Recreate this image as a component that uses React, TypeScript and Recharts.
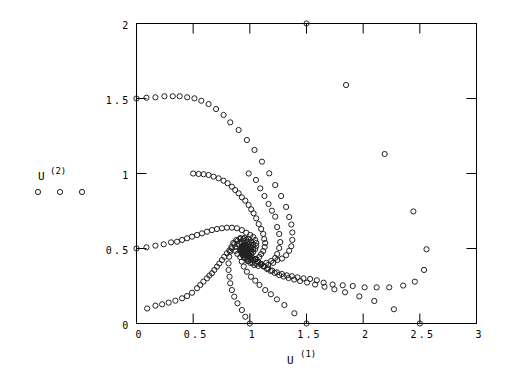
import React from 'react';
import { ScatterChart, Scatter, XAxis, YAxis, Legend, ReferenceLine } from 'recharts';

const xTicks = [0, 0.5, 1, 1.5, 2, 2.5, 3];
const yTicks = [0, 0.5, 1, 1.5, 2];
const keySamples = ['o', 'o', 'o'];

// trajectory starting at (0, 1.5)
const trajA: [number, number][] = [
  [0, 1.5], [0.088, 1.505], [0.167, 1.508], [0.246, 1.515], [0.32, 1.515], [0.381, 1.515], [0.447, 1.508],
  [0.511, 1.501], [0.572, 1.485], [0.636, 1.463], [0.702, 1.43], [0.768, 1.39], [0.827, 1.341], [0.901, 1.29],
  [0.974, 1.223], [1.041, 1.157], [1.107, 1.079], [1.171, 1.001], [1.224, 0.923], [1.276, 0.85], [1.32, 0.777],
  [1.347, 0.71], [1.366, 0.66], [1.375, 0.607], [1.375, 0.557], [1.366, 0.515], [1.347, 0.485], [1.32, 0.455],
  [1.283, 0.433], [1.243, 0.423], [1.206, 0.404], [1.162, 0.39], [1.118, 0.384], [1.074, 0.384], [1.039, 0.39],
  [1.004, 0.404], [0.978, 0.417], [0.951, 0.437], [0.934, 0.457], [0.925, 0.477], [0.925, 0.497], [0.934, 0.51],
  [0.951, 0.517], [0.969, 0.517], [0.978, 0.504], [0.969, 0.497],
];

// trajectory starting at (0.5, 1)
const trajB: [number, number][] = [
  [0.5, 1.0], [0.548, 0.997], [0.592, 0.995], [0.636, 0.99], [0.68, 0.979], [0.724, 0.968], [0.768, 0.952],
  [0.804, 0.935], [0.842, 0.912], [0.871, 0.89], [0.901, 0.868], [0.93, 0.841], [0.96, 0.819], [0.989, 0.79],
  [1.012, 0.761], [1.033, 0.735], [1.056, 0.701], [1.078, 0.663], [1.1, 0.63], [1.118, 0.597], [1.127, 0.563],
  [1.136, 0.537], [1.131, 0.51], [1.118, 0.483], [1.1, 0.463], [1.083, 0.444], [1.057, 0.43], [1.03, 0.424],
  [1.004, 0.424], [0.978, 0.43], [0.951, 0.444], [0.934, 0.464], [0.925, 0.484], [0.934, 0.504], [0.951, 0.517],
  [0.969, 0.51], [0.969, 0.497],
];

// trajectory starting at (1, 1)
const trajC: [number, number][] = [
  [0.99, 1.0], [1.054, 0.957], [1.092, 0.901], [1.129, 0.85], [1.165, 0.797], [1.195, 0.752], [1.224, 0.712],
  [1.241, 0.643], [1.259, 0.597], [1.268, 0.543], [1.259, 0.503], [1.241, 0.463], [1.224, 0.437], [1.189, 0.417],
  [1.145, 0.404], [1.101, 0.397], [1.057, 0.397], [1.022, 0.404], [0.986, 0.417], [0.96, 0.437], [0.942, 0.457],
  [0.934, 0.477], [0.934, 0.497], [0.942, 0.51], [0.96, 0.51], [0.969, 0.504],
];

// trajectory starting at (0, 0.5)
const trajD: [number, number][] = [
  [0, 0.5], [0.088, 0.508], [0.167, 0.519], [0.24, 0.528], [0.305, 0.541], [0.358, 0.545], [0.402, 0.557],
  [0.446, 0.568], [0.49, 0.579], [0.534, 0.59], [0.578, 0.601], [0.622, 0.612], [0.666, 0.623], [0.71, 0.63],
  [0.754, 0.635], [0.798, 0.639], [0.842, 0.639], [0.886, 0.635], [0.93, 0.623], [0.968, 0.605], [1.004, 0.59],
  [1.03, 0.577], [1.048, 0.557], [1.057, 0.537], [1.057, 0.517], [1.048, 0.497], [1.03, 0.477], [1.013, 0.464],
  [0.986, 0.457], [0.96, 0.457], [0.942, 0.464], [0.925, 0.477], [0.925, 0.497], [0.934, 0.51], [0.951, 0.517],
  [0.969, 0.51],
];

// trajectory starting at (0.1, 0.1)
const trajE: [number, number][] = [
  [0.094, 0.1], [0.167, 0.119], [0.226, 0.128], [0.284, 0.139], [0.343, 0.152], [0.402, 0.168], [0.446, 0.183],
  [0.49, 0.205], [0.534, 0.235], [0.563, 0.257], [0.59, 0.279], [0.622, 0.301], [0.643, 0.32], [0.666, 0.335],
  [0.687, 0.357], [0.71, 0.379], [0.731, 0.4], [0.754, 0.423], [0.775, 0.445], [0.798, 0.468], [0.819, 0.487],
  [0.842, 0.501], [0.863, 0.53], [0.89, 0.55], [0.916, 0.564], [0.942, 0.564], [0.969, 0.557], [0.995, 0.544],
  [1.013, 0.524], [1.013, 0.504], [1.004, 0.484], [0.986, 0.47], [0.96, 0.47], [0.942, 0.477], [0.934, 0.49],
  [0.942, 0.504], [0.96, 0.51],
];

// trajectory starting at (1, 0)
const trajF: [number, number][] = [
  [1.0, 0], [0.96, 0.045], [0.93, 0.09], [0.891, 0.135], [0.862, 0.179], [0.842, 0.223], [0.827, 0.268],
  [0.821, 0.312], [0.812, 0.357], [0.812, 0.401], [0.818, 0.445], [0.827, 0.48], [0.837, 0.51], [0.854, 0.537],
  [0.881, 0.557], [0.916, 0.57], [0.951, 0.57], [0.986, 0.564], [1.013, 0.544], [1.03, 0.524], [1.03, 0.497],
  [1.013, 0.477], [0.986, 0.464], [0.96, 0.464], [0.934, 0.477], [0.934, 0.497], [0.951, 0.51],
];

// trajectory starting at (1.5, 0)
const trajG: [number, number][] = [
  [1.5, 0], [1.393, 0.068], [1.305, 0.123], [1.239, 0.161], [1.186, 0.195], [1.136, 0.223], [1.085, 0.257],
  [1.048, 0.285], [1.01, 0.312], [0.974, 0.345], [0.946, 0.38], [0.929, 0.413], [0.915, 0.443], [0.89, 0.464],
  [0.872, 0.484], [0.872, 0.51], [0.89, 0.53], [0.916, 0.544], [0.942, 0.55], [0.978, 0.544], [0.995, 0.53],
  [1.004, 0.51], [0.995, 0.49], [0.978, 0.477], [0.96, 0.477], [0.942, 0.49], [0.951, 0.504],
];

// trajectory starting at (1.5, 2)
const trajH: [number, number][] = [
  [1.5, 2.0], [1.849, 1.59], [2.19, 1.13], [2.443, 0.747], [2.559, 0.495], [2.537, 0.357], [2.456, 0.279],
  [2.353, 0.253], [2.23, 0.241], [2.119, 0.241], [2.013, 0.241], [1.908, 0.25], [1.82, 0.255], [1.73, 0.26],
  [1.651, 0.272], [1.591, 0.288], [1.532, 0.297], [1.473, 0.301], [1.42, 0.308], [1.371, 0.315], [1.327, 0.321],
  [1.283, 0.33], [1.239, 0.341], [1.197, 0.353], [1.162, 0.367], [1.127, 0.38], [1.096, 0.397], [1.07, 0.413],
  [1.048, 0.43], [1.017, 0.44], [0.995, 0.447], [0.969, 0.454], [0.942, 0.464], [0.925, 0.484], [0.925, 0.504],
  [0.934, 0.517], [0.951, 0.524], [0.969, 0.517], [0.978, 0.504], [0.969, 0.49],
];

// trajectory starting at (2.5, 0)
const trajI: [number, number][] = [
  [2.5, 0], [2.271, 0.095], [2.098, 0.15], [1.966, 0.181], [1.84, 0.208], [1.746, 0.228], [1.659, 0.245],
  [1.576, 0.26], [1.505, 0.273], [1.444, 0.283], [1.391, 0.293], [1.342, 0.303], [1.298, 0.313], [1.259, 0.323],
  [1.219, 0.337], [1.184, 0.35], [1.153, 0.363], [1.122, 0.38], [1.1, 0.393], [1.074, 0.41], [1.052, 0.427],
  [1.026, 0.434], [1.0, 0.44], [0.973, 0.45], [0.947, 0.46], [0.929, 0.477], [0.925, 0.497], [0.934, 0.514],
  [0.951, 0.52], [0.969, 0.514], [0.973, 0.5],
];

const trajectories = [trajA, trajB, trajC, trajD, trajE, trajF, trajG, trajH, trajI];

const X_MIN = 0, X_MAX = 3, Y_MIN = 0, Y_MAX = 2;
const TICK_LEN = 10;

// inward tick marks on all four sides of the frame, anchored at the axis values
const bottomTicks = xTicks.map((t) => ({ x: t, y: Y_MIN }));
const topTicks = xTicks.map((t) => ({ x: t, y: Y_MAX }));
const leftTicks = yTicks.map((t) => ({ x: X_MIN, y: t }));
const rightTicks = yTicks.map((t) => ({ x: X_MAX, y: t }));

const FONT = "'DejaVu Sans Mono', 'Liberation Mono', monospace";
const INK = '#000';

const Marker = (props: any) => (
  <circle cx={props.cx} cy={props.cy} r={2.6} fill="none" stroke="#222" strokeWidth={1} />
);

const tickShape = (dx: number, dy: number) => (props: any) => (
  <path d={`M${props.cx},${props.cy}L${props.cx + dx * TICK_LEN},${props.cy + dy * TICK_LEN}`}
    fill="none" stroke={INK} strokeWidth={1} />
);
const UpTick = tickShape(0, -1);
const DownTick = tickShape(0, 1);
const RightwardTick = tickShape(1, 0);
const LeftwardTick = tickShape(-1, 0);

const XTick = (props: any) => (
  <text x={props.x + 3} y={props.y + 8} textAnchor="middle" fontSize={10} fontFamily={FONT}
    fill={INK} letterSpacing={2.2}>
    {props.payload.value}
  </text>
);

const YTick = (props: any) => (
  <text x={props.x} y={props.y + 5} textAnchor="end" fontSize={10} fontFamily={FONT}
    fill={INK} letterSpacing={2.2}>
    {props.payload.value}
  </text>
);

const XLabel = () => (
  <g>
    <text x={287} y={364} fontSize={11} fontFamily={FONT} fill={INK}>U</text>
    <text x={300} y={357} fontSize={9} fontFamily={FONT} fill={INK}>(1)</text>
  </g>
);

const YLabel = () => (
  <g>
    <text x={38} y={180} fontSize={11} fontFamily={FONT} fill={INK}>U</text>
    <text x={50} y={174} fontSize={9} fontFamily={FONT} fill={INK}>(2)</text>
  </g>
);

const KeyContent = () => (
  <svg width={70} height={14} style={{ display: 'block' }}>
    {keySamples.map((k, i) => (
      <circle key={i} cx={8 + i * 22} cy={7} r={2.6} fill="none" stroke="#222" strokeWidth={1} />
    ))}
  </svg>
);

export default function App() {
  return (
    <div style={{ position: 'absolute', left: 0, top: 0, background: '#fff' }}>
      <ScatterChart width={512} height={384} margin={{ top: 23.5, right: 35.5, bottom: 30.5, left: 0.5 }}>
        <XAxis dataKey="x" type="number" domain={[X_MIN, X_MAX]} ticks={xTicks} interval={0}
          tickSize={0} tickMargin={6} height={30} tick={<XTick />}
          axisLine={{ stroke: INK }} tickLine={false} label={<XLabel />} />
        <YAxis dataKey="y" type="number" domain={[Y_MIN, Y_MAX]} ticks={yTicks} interval={0}
          tickSize={0} tickMargin={6} width={136} tick={<YTick />}
          axisLine={{ stroke: INK }} tickLine={false} label={<YLabel />} />
        <ReferenceLine y={Y_MAX} stroke={INK} />
        <ReferenceLine x={X_MAX} stroke={INK} />
        <Legend layout="horizontal" verticalAlign="middle" align="center" content={<KeyContent />}
          wrapperStyle={{ position: 'absolute', left: 30, top: 185, width: 70, height: 14 }} />
        <Scatter name="ticks-bottom" data={bottomTicks} shape={UpTick} isAnimationActive={false} legendType="none" />
        <Scatter name="ticks-top" data={topTicks} shape={DownTick} isAnimationActive={false} legendType="none" />
        <Scatter name="ticks-left" data={leftTicks} shape={RightwardTick} isAnimationActive={false} legendType="none" />
        <Scatter name="ticks-right" data={rightTicks} shape={LeftwardTick} isAnimationActive={false} legendType="none" />
        {trajectories.map((t, i) => (
          <Scatter key={i} name={`U${i}`} data={t.map(([x, y]) => ({ x, y }))} shape={Marker}
            isAnimationActive={false} />
        ))}
      </ScatterChart>
    </div>
  );
}
